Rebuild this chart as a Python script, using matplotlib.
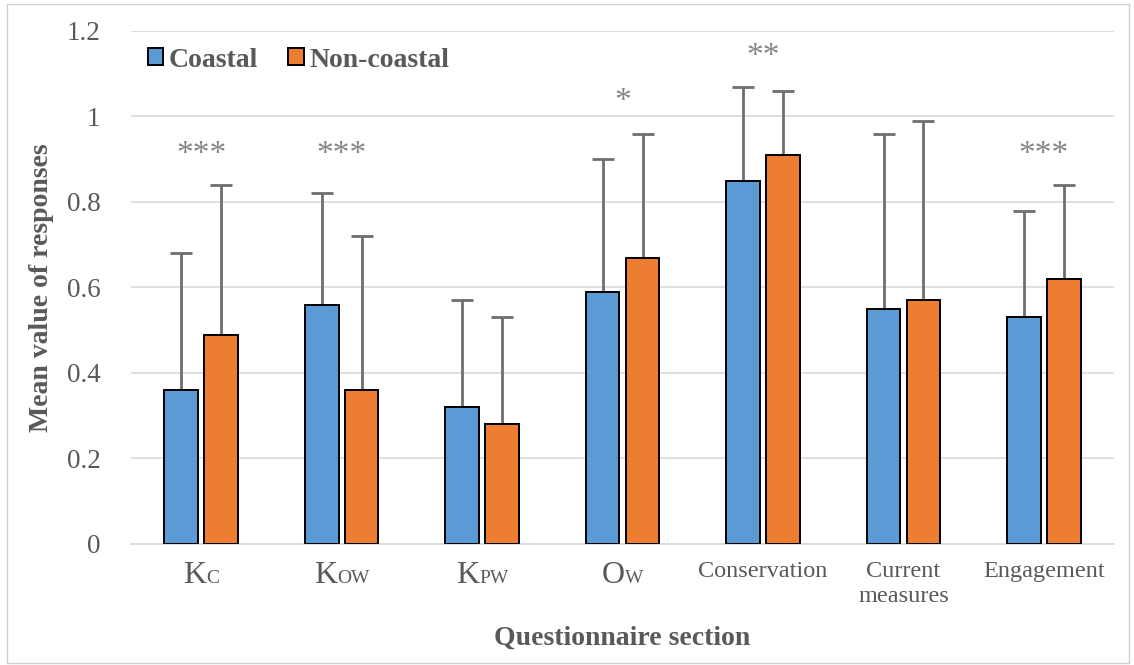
import numpy as np
import matplotlib
matplotlib.use("Agg")
from matplotlib import pyplot as plt
from matplotlib.offsetbox import TextArea, HPacker, AnnotationBbox
from matplotlib.patches import Rectangle

# data
sections = [("K", "C"), ("K", "OW"), ("K", "PW"), ("O", "W"),
            ("Conservation", ""), ("Current\nmeasures", ""), ("Engagement", "")]
coastal = [0.36, 0.56, 0.32, 0.59, 0.85, 0.55, 0.53]
coastal_err = [0.32, 0.26, 0.25, 0.31, 0.22, 0.41, 0.25]
noncoastal = [0.49, 0.36, 0.28, 0.67, 0.91, 0.57, 0.62]
noncoastal_err = [0.35, 0.36, 0.25, 0.29, 0.15, 0.42, 0.22]
stars = ["***", "***", "", "*", "**", "", "***"]
star_y = [0.91, 0.91, 0, 1.035, 1.14, 0, 0.91]

plt.rcParams["font.family"] = ["Liberation Serif", "DejaVu Serif"]
grey = "#595959"

fig = plt.figure(figsize=(11.34, 6.65), dpi=100)
ax = fig.add_axes([0.1155, 0.182, 0.867, 0.7714])
fig.patches.append(Rectangle((0.006, 0.003), 0.99, 0.991, transform=fig.transFigure,
                             fill=False, edgecolor="#d0d0d0", linewidth=1))

x = np.arange(len(sections))
w = 0.24
off = 0.142
# bars above the error bars, so the lower cap hides behind the bar
ax.bar(x - off, coastal, w, color="#5b9bd5", edgecolor="black", linewidth=1.4,
       label="Coastal", zorder=3)
ax.bar(x + off, noncoastal, w, color="#ed7d31", edgecolor="black", linewidth=1.4,
       label="Non-coastal", zorder=3)
err_kw = dict(fmt="none", ecolor="#6e6e6e", elinewidth=2, capsize=8, capthick=2, zorder=2)
ax.errorbar(x - off, coastal, yerr=[np.zeros(len(x)), coastal_err], **err_kw)
ax.errorbar(x + off, noncoastal, yerr=[np.zeros(len(x)), noncoastal_err], **err_kw)

for i, s in enumerate(stars):
    if s:
        ax.text(x[i], star_y[i], s, ha="center", va="center", fontsize=24, color="#858585")

ax.set_xlim(-0.5, len(sections) - 0.5)
ax.set_ylim(0, 1.2)
ax.set_yticks(np.arange(0, 1.21, 0.2))
ax.set_yticklabels(["0", "0.2", "0.4", "0.6", "0.8", "1", "1.2"])
ax.tick_params(axis="y", length=0, pad=22, labelsize=19.5, labelcolor=grey)
ax.tick_params(axis="x", length=0, labelbottom=False)
ax.grid(axis="y", color="#d9d9d9", linewidth=1.2, zorder=0)
ax.set_axisbelow(True)
for sp in ["top", "right", "left"]:
    ax.spines[sp].set_visible(False)
ax.spines["bottom"].set_color("#d9d9d9")
ax.spines["bottom"].set_linewidth(1.2)

# category labels, with small caps for the K / O abbreviations
for i, (big, small) in enumerate(sections):
    if small:
        parts = [TextArea(big, textprops=dict(fontsize=23, color=grey)),
                 TextArea(small, textprops=dict(fontsize=14, color=grey))]
        box = HPacker(children=parts, align="baseline", pad=0, sep=0)
    else:
        box = TextArea(big, textprops=dict(fontsize=17.5, color=grey, ha="center",
                                           multialignment="center", linespacing=1.3))
    ab = AnnotationBbox(box, (x[i], 0), xycoords=("data", "axes fraction"),
                        xybox=(0, -12), boxcoords="offset points",
                        box_alignment=(0.5, 1), frameon=False, annotation_clip=False)
    ax.add_artist(ab)

ax.set_ylabel("Mean value of responses", fontsize=20, fontweight="bold", color=grey, labelpad=9)
fig.text(0.549, 0.04, "Questionnaire section", ha="center", va="center",
         fontsize=20, fontweight="bold", color=grey)

leg = ax.legend(loc="upper left", bbox_to_anchor=(0.0, 1.0), ncol=2, frameon=False,
                prop=dict(size=20, weight="bold"), handlelength=0.55, handleheight=0.55,
                handletextpad=0.2, columnspacing=1.1, borderaxespad=0.2)
for t in leg.get_texts():
    t.set_color(grey)

fig.savefig("out.png", dpi=100)
